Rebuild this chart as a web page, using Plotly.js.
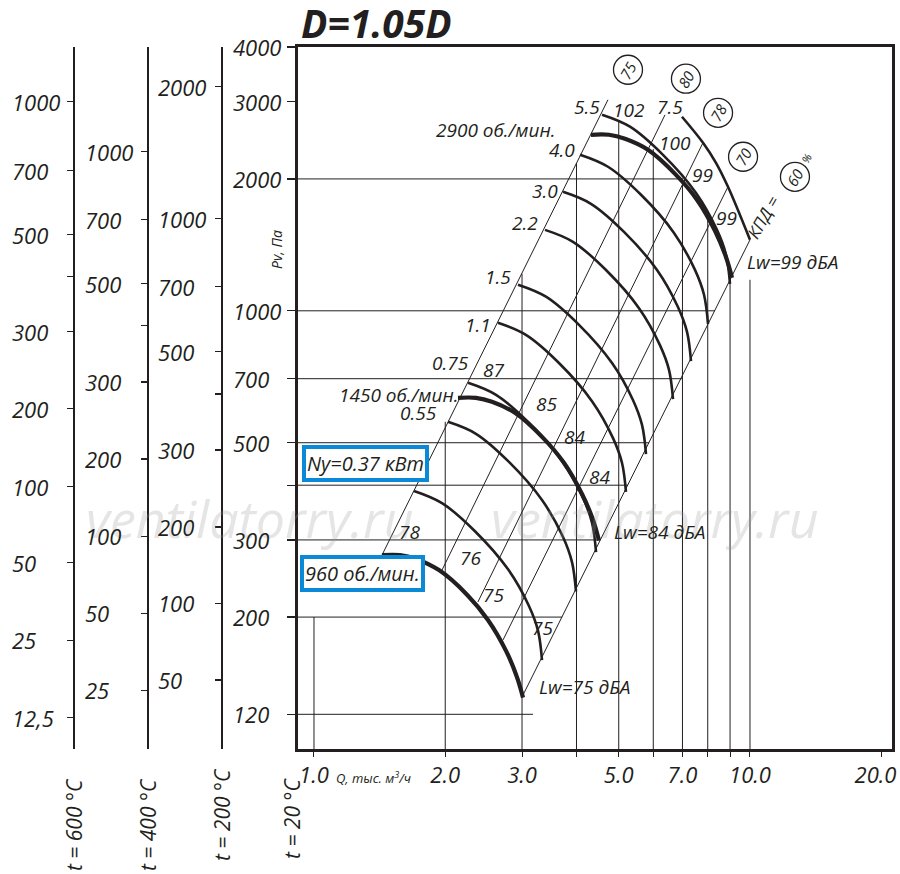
<!DOCTYPE html>
<html><head><meta charset="utf-8">
<script src="https://cdn.plot.ly/plotly-3.0.1.min.js"></script>
<style>body{margin:0;background:#fff}#chart{width:900px;height:874px}</style>
</head><body><div id="chart"></div>
<script>
// ---------- axis ticks / labels ----------
const xTickVals = [1,2,3,4,5,6,7,8,9,10,20];
const xTickText = ['1.0','2.0','3.0','','5.0','','7.0','','','10.0','20.0\u00a0\u00a0'];
const pMainVals = [4000,3000,2000,1000,700,500,400,300,200,120];
const pMainText = ['4000','3000','2000','1000','700','500','','300','200','120'];
// other temperature scales: positions expressed in Pa of the 20 °C scale
const t200Pos  = [3247,1622,1134,806,646,481.5,321,215,143.7];
const t200Text = ['2000','1000','700','500','','300','200','100','50'];
const t400Pos  = [2307,1614,1152,924,688,459,306,204,136];
const t400Text = ['1000','700','500','','300','200','100','50','25'];
const t600Pos  = [3000,2087,1491,1196,896,598,397,266,177,118];
const t600Text = ['1000','700','500','','300','200','100','50','25','12,5'];

// ---------- grid segments ----------
const vQ   = [1,2,3,4,5,6,7,8,9,10];
const vTop = [200,558,1215,2170,2700,2340,2000,1660,1196,1177];
const hP    = [2000,1000,700,500,400,300,200,120];
const hEndQ = [7.02,8.31,6.98,5.87,5.25,4.53,3.71,3.18];

// ---------- constant-efficiency lines (lower / upper ends) ----------
const diagQ0 = [1.432,1.966,2.377,2.714,3.000];
const diagP0 = [277,256,216.6,177.4,131.4];
const diagQ1 = [4.724,6.383,7.802,8.903,10.0];
const diagP1 = [3032,2800,2419,1919,1452];

// ---------- thin curves (motor power) ----------
const q037 = [1.696,1.966,2.340,2.787,3.112,3.265,3.334];
const p037 = [388,364,314,257,212,186,159.5];
const q055 = [2.029,2.352,2.800,3.334,3.723,3.906,3.989];
const p055 = [558,524,452,370,305,267,229];
const q075 = [2.256,2.615,3.113,3.707,4.140,4.343,4.435];
const p075 = [685,643,555,454,374,328,281.5];
const q110 = [2.642,3.062,3.646,4.341,4.848,5.086,5.194];
const p110 = [939,881,760,622,513,450,386];
const q150 = [2.937,3.404,4.053,4.826,5.389,5.654,5.774];
const p150 = [1147,1077,929,760,626,549,471];
const q220 = [3.387,3.926,4.674,5.565,6.215,6.520,6.659];
const p220 = [1530,1437,1239,1014,835,733,629];
const q300 = [3.725,4.317,5.141,6.120,6.835,7.171,7.323];
const p300 = [1869,1755,1514,1239,1020,895,768];
const q400 = [4.075,4.723,5.624,6.695,7.478,7.844,8.011];
const p400 = [2271,2132,1840,1506,1240,1088,933];
const q550 = [4.577,5.305,6.316,7.520,8.399,8.811,8.998];
const p550 = [2803,2632,2270,1858,1530,1343,1152];
const q750 = [6.982,7.802,8.356,8.903,10.0];
const p750 = [2773,2419,2177,1919,1452];

// ---------- thick curves (rpm) ----------
const q960  = [1.432,1.575,1.714,1.935,2.244,2.506,2.757,2.920,3.016];
const p960  = [277,277,271.5,256,225,197,167.5,146,131];
const q1450 = [2.139,2.352,2.560,2.890,3.352,3.743,4.118,4.361,4.505];
const p1450 = [633,633,620,585,513,450,382,334,299];
const q2900 = [4.318,4.749,5.169,5.834,6.766,7.557,8.312,8.804,9.094];
const p2900 = [2522,2522,2469,2330,2043,1793,1523,1329,1190];

// ---------- labels ----------
const powLabels = ['0.55','0.75','1.1','1.5','2.2','3.0','4.0','5.5','7.5'];
const powQ = [1.732,2.051,2.377,2.642,3.048,3.387,3.706,4.228,6.555];
const powP = [585,761,929,1196,1588,1879,2331,2922,2922];
const lwLabels = ['102','100','99','99','87','85','84','84','78','76','75','75'];
const lwQ = [5.251,6.730,7.802,8.856,2.574,3.422,3.967,4.505,1.660,2.280,2.574,3.351];
const lwP = [2877,2419,2045,1631,733,613,515.6,417.8,312.9,272.9,224.7,189.0];
const lwTotLabels = ['Lw=99 дБА','Lw=84 дБА','Lw=75 дБА'];
const lwTotQ = [9.74,4.826,3.247];
const lwTotP = [1294,312.9,138.5];
const rpmLabels = ['2900 об./мин.','1450 об./мин.'];
const rpmQ = [3.608,2.162];
const rpmP = [2590,643];
const effLabels = ['75','80','78','70','60'];
const effQ = [5.25,7.13,8.447,9.64,12.68];
const effP = [3549,3386,2831,2247,2022];

// ---------- build ----------
const FONT = 'Open Sans, Noto Sans, DejaVu Sans, sans-serif';
const INK = '#231f20';
const BLUE = '#0a8ad6';
function ital(size, extra){ return Object.assign({family:FONT,size:size,color:INK,style:'italic'}, extra||{}); }
const L = Math.log10;
const traces = [];

const gx=[], gy=[];
vQ.forEach((q,i)=>{ gx.push(q,q,null); gy.push(100,vTop[i],null); });
hP.forEach((p,i)=>{ gx.push(0.85,hEndQ[i],null); gy.push(p,p,null); });
traces.push({x:gx,y:gy,mode:'lines',line:{color:INK,width:1},hoverinfo:'skip'});

const dx=[], dy=[];
diagQ0.forEach((q,i)=>{ dx.push(q,diagQ1[i],null); dy.push(diagP0[i],diagP1[i],null); });
traces.push({x:dx,y:dy,mode:'lines',line:{color:INK,width:1},hoverinfo:'skip'});

[[q037,p037],[q055,p055],[q075,p075],[q110,p110],[q150,p150],[q220,p220],[q300,p300],[q400,p400],[q550,p550],[q750,p750]]
 .forEach(c=>traces.push({x:c[0],y:c[1],mode:'lines',line:{color:INK,width:2.6,shape:'spline',smoothing:1},hoverinfo:'skip'}));
[[q960,p960],[q1450,p1450],[q2900,p2900]]
 .forEach(c=>traces.push({x:c[0],y:c[1],mode:'lines',line:{color:INK,width:4.2,shape:'spline',smoothing:1},hoverinfo:'skip'}));

traces.push({x:effQ,y:effP,mode:'markers',marker:{symbol:'circle-open',size:29,color:INK,line:{width:1.3,color:INK}},hoverinfo:'skip'});

// dummy traces so the extra scales are drawn
['y2','y3','y4'].forEach(a=>traces.push({x:[2],y:[1000],yaxis:a,mode:'markers',marker:{opacity:0},hoverinfo:'skip'}));

const ann = [];
const wm = ital(52,{color:'rgba(150,150,150,0.25)'});
const P = (t,x,y,f,o)=>ann.push(Object.assign({xref:'paper',yref:'paper',x:x,y:y,xanchor:'center',yanchor:'middle',text:t,showarrow:false,font:f},o||{}));
P('ventilatorry.ru',0.272,0.330,wm);
P('ventilatorry.ru',0.731,0.330,wm);

function lab(text,q,p,size,opts){ ann.push(Object.assign({x:L(q),y:L(p),xref:'x',yref:'y',xanchor:'center',yanchor:'middle',text:text,showarrow:false,font:ital(size)},opts||{})); }
powLabels.forEach((t,i)=>lab(t,powQ[i],powP[i],19));
lwLabels.forEach((t,i)=>lab(t,lwQ[i],lwP[i],19));
lwTotLabels.forEach((t,i)=>lab(t,lwTotQ[i],lwTotP[i],19,{xanchor:'left'}));
rpmLabels.forEach((t,i)=>lab(t,rpmQ[i],rpmP[i],19,{xanchor:'right'}));
effLabels.forEach((t,i)=>lab(t,effQ[i],effP[i],15,{textangle:-60}));

// tick labels of the four pressure scales (left aligned like the original)
function scaleLabels(vals,texts,xp){ vals.forEach((v,i)=>{ if(texts[i]) ann.push({x:xp,y:L(v),xref:'paper',yref:'y',xanchor:'left',yanchor:'middle',text:texts[i],showarrow:false,font:ital(22)}); }); }
scaleLabels(t600Pos,t600Text,0.0);
scaleLabels(t400Pos,t400Text,0.083);
scaleLabels(t200Pos,t200Text,0.165);
scaleLabels(pMainVals,pMainText,0.250);

P('D=1.05D',0.3277,1.035,ital(39,{weight:700}),{xanchor:'left'});
P('Pv, Па',0.3016,0.7108,ital(14),{textangle:-90});
P('Q, тыс. м<sup>3</sup>/ч',0.3673,-0.0413,ital(13),{xanchor:'left'});
P('t = 600 °C',0.0726,-0.1083,ital(21),{textangle:-90});
P('t = 400 °C',0.1565,-0.1083,ital(21),{textangle:-90});
P('t = 200 °C',0.2404,-0.0940,ital(21),{textangle:-90});
P('t = 20 °C',0.3197,-0.0983,ital(21),{textangle:-90});
P('Ny=0.37 кВт',0.4036,0.4074,ital(20),{bordercolor:BLUE,borderwidth:4,borderpad:1,bgcolor:'#fff'});
P('960 об./мин.',0.4002,0.2493,ital(20),{bordercolor:BLUE,borderwidth:4,borderpad:1,bgcolor:'#fff'});
P('КПД =',0.8535,0.7575,ital(17),{textangle:-60});
P('%',0.9036,0.8419,ital(11),{textangle:-60});

const yr = [2, L(4000)];
const side = (pos,vals)=>({overlaying:'y',type:'log',range:yr,anchor:'free',position:pos,side:'left',
  tickvals:vals,showticklabels:false,ticks:'outside',ticklen:6,tickwidth:1.2,tickcolor:INK,
  showline:true,linewidth:2,linecolor:INK,showgrid:false,zeroline:false,fixedrange:true});

const layout = {
  width:900,height:874,margin:{l:10,r:8,t:47,b:125},
  paper_bgcolor:'#fff',plot_bgcolor:'#fff',showlegend:false,
  xaxis:{type:'log',range:[-0.0367,1.3257],domain:[0.32653,1],tickvals:xTickVals,ticktext:xTickText,
    ticks:'outside',ticklen:5,tickcolor:INK,showline:true,mirror:true,linewidth:3,linecolor:INK,
    showgrid:false,zeroline:false,tickfont:ital(22),ticklabeloverflow:'allow',fixedrange:true},
  yaxis:{type:'log',range:yr,tickvals:pMainVals,showticklabels:false,ticks:'outside',ticklen:8,tickwidth:1.2,
    tickcolor:INK,showline:true,mirror:true,linewidth:3,linecolor:INK,showgrid:false,zeroline:false,fixedrange:true},
  yaxis2:side(0.24036,t200Pos),
  yaxis3:side(0.15646,t400Pos),
  yaxis4:side(0.07256,t600Pos),
  annotations:ann
};
Plotly.newPlot('chart',traces,layout,{staticPlot:true});
</script></body></html>
